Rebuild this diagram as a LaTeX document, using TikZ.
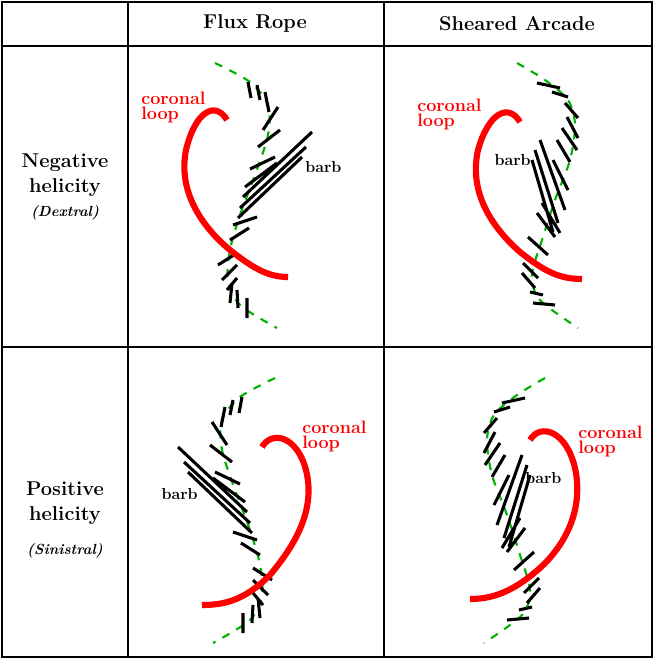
\documentclass[tikz,border=0pt]{standalone}
\begin{document}
\begin{tikzpicture}[x=0.75pt,y=-0.75pt,
 grid/.style={line width=2pt,black},
 spine/.style={green!70!black,line width=1.6pt,dash pattern=on 6pt off 6pt},
 barbl/.style={line width=2.3pt,black},
 loopc/.style={red,line width=4.6pt,line cap=butt},
 redlab/.style={red,font=\bfseries\fontsize{13.5}{13}\selectfont,align=left,inner sep=0pt,anchor=north west},
 blab/.style={font=\bfseries\fontsize{12}{14}\selectfont,inner sep=0pt},
 head/.style={font=\bfseries\fontsize{15}{18}\selectfont},
 side/.style={font=\bfseries\fontsize{15}{19}\selectfont,align=center},
 sideit/.style={font=\bfseries\itshape\fontsize{11}{13}\selectfont}]
\useasboundingbox (0,0) rectangle (654,659);
\draw[grid] (2,2) rectangle (652,657);
\draw[grid] (128,2) -- (128,657) (384,2) -- (384,657) (2,46) -- (652,46) (2,347) -- (652,347);
\node[head] (h1) at (255,24) {Flux Rope};
\node[head] (h2) at (517,24) {Sheared Arcade};
\node[side] (s1) at (65,175) {Negative\\helicity};
\node[sideit] (s1b) at (65,213) {(Dextral)};
\node[side] (s2) at (65,503) {Positive\\helicity};
\node[sideit] (s2b) at (65,551) {(Sinistral)};
\newcommand\filA{%
 \draw[spine] plot[smooth] coordinates {(215,63) (250,82) (268,105) (268,135) (255,175) (240,215) (230,250) (228,280) (240,305) (277,328)};
 \draw[barbl] (248,82)--(251,98) (257,85)--(260,100) (265,92)--(269,112)
  (263,130)--(278,107) (258,147)--(280,130) (250,169)--(275,157) (245,187)--(277,163)
  (243,197)--(312,132) (240,208)--(306,147) (238,218)--(302,157)
  (233,225)--(257,217) (230,240)--(249,228) (218,265)--(237,253) (222,280)--(237,265)
  (227,290)--(237,278) (230,303)--(232,283) (238,308)--(237,290) (247,318)--(247,298);}
\newcommand\filB{%
 \draw[spine] plot[smooth] coordinates {(517,63) (545,80) (568,100) (575,125) (570,160) (555,200) (542,240) (532,275) (540,300) (578,328)};
 \draw[barbl] (537,83)--(560,88) (552,92)--(568,97) (565,103)--(578,118) (567,117)--(578,138)
  (562,128)--(577,150) (557,140)--(570,162) (553,160)--(568,190)
  (540,140)--(565,210) (535,150)--(558,223) (532,160)--(553,232)
  (542,203)--(560,233) (537,213)--(555,237) (528,237)--(548,255)
  (523,263)--(538,278) (522,273)--(535,288) (530,292)--(543,295) (533,303)--(555,305);}
% top-left
\filA
\draw[loopc] (227,120) .. controls (215,100) and (195,112) .. (186,150) .. controls (178,190) and (200,225) .. (230,250) .. controls (255,270) and (270,277) .. (288,277);
\node[redlab] (cl1) at (141,92) {coronal\\[-2pt]loop};
\node[blab,anchor=west] (b1) at (305,167) {barb};
% top-right
\filB
\draw[loopc] (520,122) .. controls (508,102) and (488,114) .. (478,150) .. controls (468,195) and (495,230) .. (520,252) .. controls (545,272) and (560,279) .. (582,279);
\node[redlab] (cl2) at (417,99) {coronal\\[-2pt]loop};
\node[blab,anchor=east] (b2) at (531,160) {barb};
% bottom-left
\begin{scope}[shift={(490,315)},xscale=-1]\filA\end{scope}
\draw[loopc] (262,447) .. controls (272,430) and (297,436) .. (306,470) .. controls (316,510) and (295,545) .. (270,575) .. controls (245,600) and (225,605) .. (202,605);
\node[redlab] (cl3) at (302,421) {coronal\\[-2pt]loop};
\node[blab,anchor=east] (b3) at (198,494) {barb};
% bottom-right
\begin{scope}[shift={(1062,315)},xscale=-1]\filB\end{scope}
\draw[loopc] (530,440) .. controls (540,423) and (566,430) .. (575,468) .. controls (584,510) and (565,545) .. (540,568) .. controls (515,590) and (495,599) .. (470,599);
\node[redlab] (cl4) at (578,426) {coronal\\[-2pt]loop};
\node[blab,anchor=west] (b4) at (525,478) {barb};
\end{tikzpicture}
\end{document}
